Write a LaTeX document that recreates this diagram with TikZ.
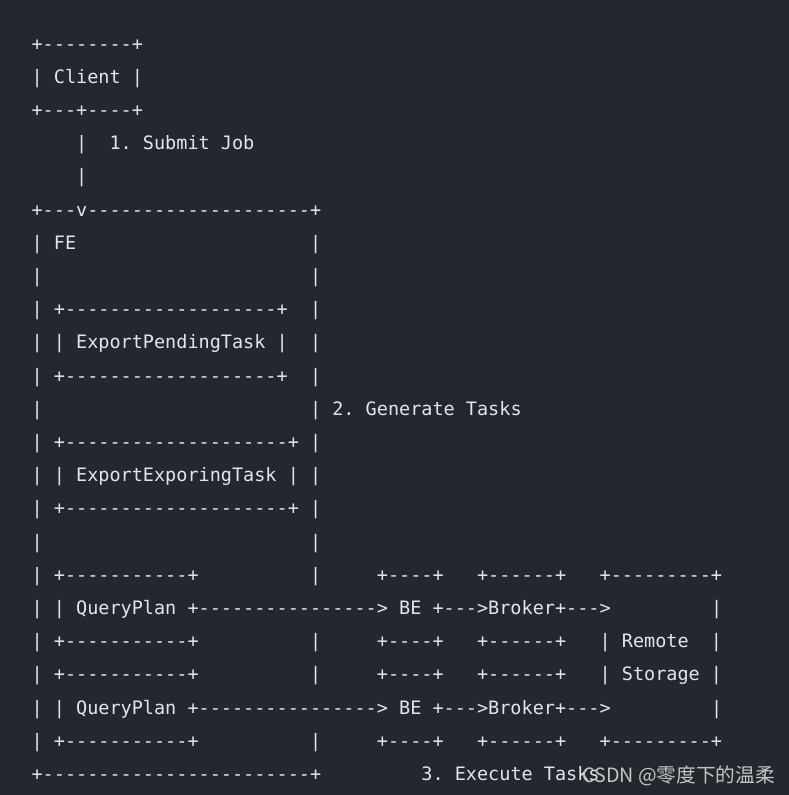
\documentclass[tikz,border=0pt]{standalone}
\usepackage{fontspec}
\setmonofont{DejaVu Sans Mono}
\newfontfamily\markfont{Noto Sans CJK SC}
\definecolor{codebg}{HTML}{23272E}
\definecolor{codefg}{HTML}{E2E5EA}
\definecolor{markfg}{HTML}{C4C4C4}

\begin{document}
\begin{tikzpicture}[
    x=1pt, y=-1pt,
    asciiline/.style={anchor=base west, inner sep=0pt, text=codefg, font=\ttfamily\fontsize{18.5}{22}\selectfont},
    watermark/.style={anchor=base west, inner sep=0pt, text=markfg, font=\markfont\fontsize{19.7}{22}\selectfont}
  ]
    \fill[codebg] (0,0) rectangle (789,795);
    \useasboundingbox (0,0) rectangle (789,795);
    % one node per line of the sketch, ~ keeps the columns
    \foreach \txt [count=\i from 0] in {
      +--------+,
      |~Client~|,
      +---+----+,
      ~~~~|~~1.~Submit~Job,
      ~~~~|,
      +---v--------------------+,
      |~FE~~~~~~~~~~~~~~~~~~~~~|,
      |~~~~~~~~~~~~~~~~~~~~~~~~|,
      |~+-------------------+~~|,
      |~|~ExportPendingTask~|~~|,
      |~+-------------------+~~|,
      |~~~~~~~~~~~~~~~~~~~~~~~~|~2.~Generate~Tasks,
      |~+--------------------+~|,
      |~|~ExportExporingTask~|~|,
      |~+--------------------+~|,
      |~~~~~~~~~~~~~~~~~~~~~~~~|,
      |~+-----------+~~~~~~~~~~|~~~~~+----+~~~+------+~~~+---------+,
      |~|~QueryPlan~+---------------->~BE~+--->Broker+--->~~~~~~~~~|,
      |~+-----------+~~~~~~~~~~|~~~~~+----+~~~+------+~~~|~Remote~~|,
      |~+-----------+~~~~~~~~~~|~~~~~+----+~~~+------+~~~|~Storage~|,
      |~|~QueryPlan~+---------------->~BE~+--->Broker+--->~~~~~~~~~|,
      |~+-----------+~~~~~~~~~~|~~~~~+----+~~~+------+~~~+---------+,
      +------------------------+~~~~~~~~~3.~Execute~Tasks
    }{
      \node[asciiline] (row\i) at (31.4, {50+33.2*\i}) {\txt};
    }
    \node[watermark] (mark) at (582,782) {CSDN @零度下的温柔};
\end{tikzpicture}
\end{document}
